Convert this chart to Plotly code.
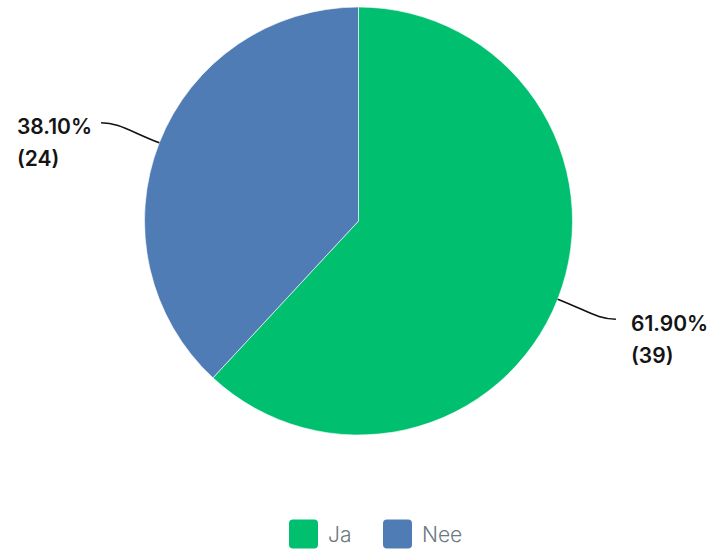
import math
import plotly.graph_objects as go

# Survey answers
categories = ["Ja", "Nee"]
counts = [39, 24]
colors = ["#00BF6F", "#507CB6"]

W, H = 707, 551
CX, CY, R = 358.5, 221.0, 214.0  # pie centre and radius in pixels

LABEL_FONT = dict(family="Inter", size=21, color="#141414", weight=600)
LEGEND_FONT = dict(family="Inter", size=21, color="#6B787F", weight=300)


def px(x):
    return x / W


def py(y):
    return 1 - y / H


total = sum(counts)
shares = [c / total * 100 for c in counts]

fig = go.Figure(
    go.Pie(
        labels=categories,
        values=counts,
        marker=dict(colors=colors, line=dict(color="#ffffff", width=0.6)),
        sort=False,
        direction="clockwise",
        rotation=0,
        textinfo="none",
        hoverinfo="label+value+percent",
        domain=dict(x=[px(CX - R), px(CX + R)], y=[py(CY + R), py(CY - R)]),
        showlegend=False,
    )
)

shapes = []
annotations = []

# Leader lines and outside labels, placed at each slice's mid-angle
start = 0.0
for cat, cnt, share in zip(categories, counts, shares):
    mid = start + share / 2 / 100 * 360
    start += share / 100 * 360
    a = math.radians(mid)
    ux, uy = math.sin(a), -math.cos(a)
    ex, ey = CX + R * ux, CY + R * uy
    side = 1 if ux >= 0 else -1
    # elbow end point: radial run, then short horizontal
    tx = ex + ux * 55 + side * 7
    ty = ey + uy * 55
    c1x, c1y = ex + ux * 32, ey + uy * 32
    c2x, c2y = tx - side * 18, ty
    shapes.append(
        dict(
            type="path",
            xref="paper",
            yref="paper",
            path=f"M {px(ex)},{py(ey)} C {px(c1x)},{py(c1y)} {px(c2x)},{py(c2y)} {px(tx)},{py(ty)}",
            line=dict(color="#111111", width=1.6),
        )
    )
    left = tx + 13 if side > 0 else tx - 86
    for i, line in enumerate([f"{share:.2f}%", f"({cnt})"]):
        annotations.append(
            dict(
                x=px(left),
                y=py(ty + 4 + 32 * i),
                xref="paper",
                yref="paper",
                xanchor="left",
                yanchor="middle",
                text=line,
                showarrow=False,
                font=LABEL_FONT,
            )
        )

# Legend: rounded swatches with category names
legend_x = [289, 383]
sw = 29
ly = 534
rr = 4
for cat, col, lx in zip(categories, colors, legend_x):
    x0, x1 = lx, lx + sw
    y0, y1 = ly - sw / 2, ly + sw / 2
    path = (
        f"M {px(x0 + rr)},{py(y0)} L {px(x1 - rr)},{py(y0)} "
        f"Q {px(x1)},{py(y0)} {px(x1)},{py(y0 + rr)} L {px(x1)},{py(y1 - rr)} "
        f"Q {px(x1)},{py(y1)} {px(x1 - rr)},{py(y1)} L {px(x0 + rr)},{py(y1)} "
        f"Q {px(x0)},{py(y1)} {px(x0)},{py(y1 - rr)} L {px(x0)},{py(y0 + rr)} "
        f"Q {px(x0)},{py(y0)} {px(x0 + rr)},{py(y0)} Z"
    )
    shapes.append(
        dict(type="path", xref="paper", yref="paper", path=path,
             fillcolor=col, line=dict(width=0))
    )
    annotations.append(
        dict(
            x=px(x1 + 8),
            y=py(ly),
            xref="paper",
            yref="paper",
            xanchor="left",
            yanchor="middle",
            text=cat,
            showarrow=False,
            font=LEGEND_FONT,
        )
    )

fig.update_layout(
    width=W,
    height=H,
    margin=dict(l=0, r=0, t=0, b=0),
    paper_bgcolor="#ffffff",
    plot_bgcolor="#ffffff",
    shapes=shapes,
    annotations=annotations,
)

fig.write_html("out.html")
